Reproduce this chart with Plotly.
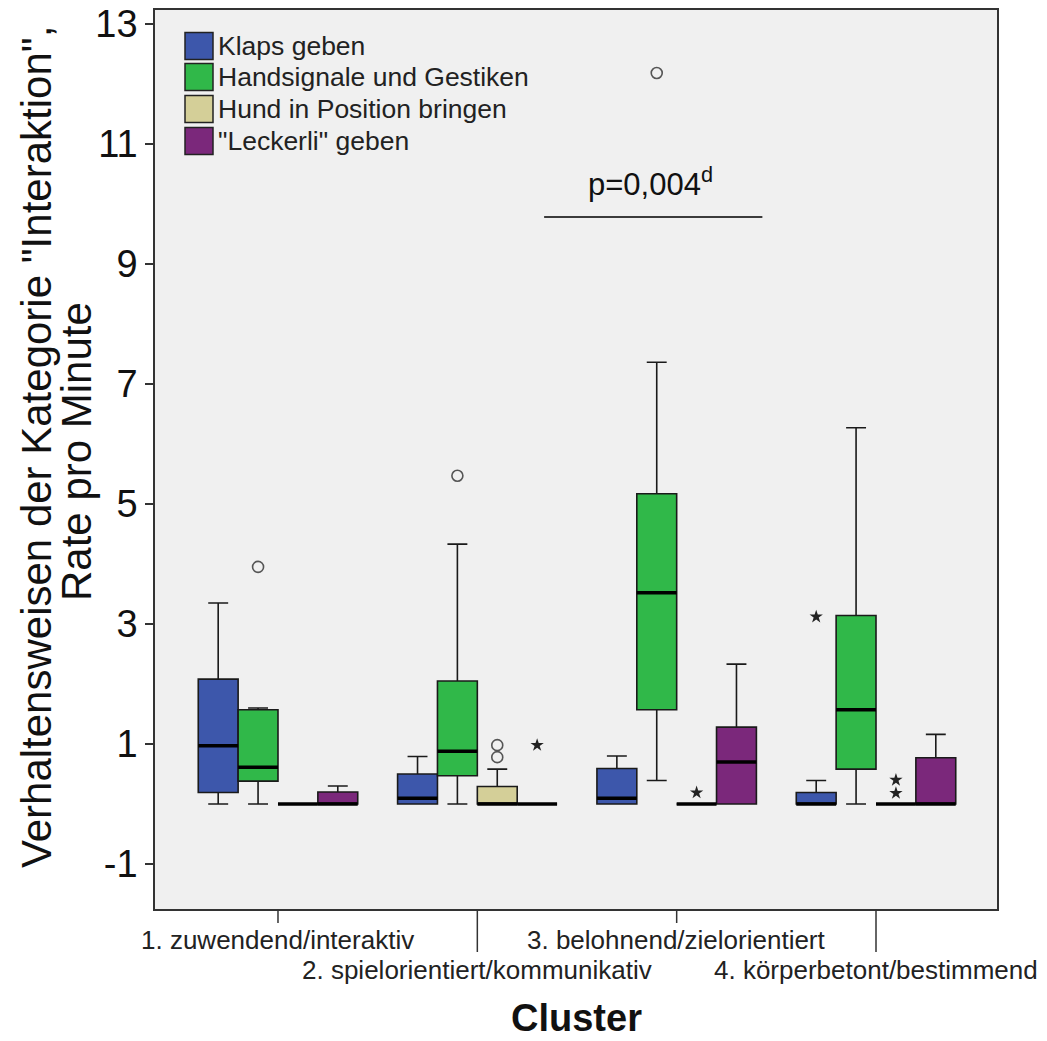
import plotly.graph_objects as go

# ---------------- data ----------------
clusters = ["1. zuwendend/interaktiv", "2. spielorientiert/kommunikativ",
            "3. belohnend/zielorientiert", "4. körperbetont/bestimmend"]
series = ["Klaps geben", "Handsignale und Gestiken", "Hund in Position bringen", "\"Leckerli\" geben"]
colors = ["#3D57AB", "#30B849", "#D4CF98", "#7B287B"]

klaps_lower = [0.0, 0.0, 0.0, 0.0]
klaps_q1 = [0.19, 0.0, 0.0, 0.0]
klaps_median = [0.97, 0.095, 0.095, 0.0]
klaps_q3 = [2.08, 0.50, 0.59, 0.19]
klaps_upper = [3.35, 0.79, 0.80, 0.39]

hand_lower = [0.0, 0.0, 0.39, 0.0]
hand_q1 = [0.38, 0.47, 1.57, 0.58]
hand_median = [0.61, 0.88, 3.52, 1.57]
hand_q3 = [1.57, 2.05, 5.17, 3.14]
hand_upper = [1.60, 4.33, 7.36, 6.27]

hund_lower = [0.0, 0.0, 0.0, 0.0]
hund_q1 = [0.0, 0.0, 0.0, 0.0]
hund_median = [0.0, 0.0, 0.0, 0.0]
hund_q3 = [0.0, 0.29, 0.0, 0.0]
hund_upper = [0.0, 0.58, 0.0, 0.0]

leck_lower = [0.0, 0.0, 0.0, 0.0]
leck_q1 = [0.0, 0.0, 0.0, 0.0]
leck_median = [0.0, 0.0, 0.70, 0.0]
leck_q3 = [0.20, 0.0, 1.28, 0.77]
leck_upper = [0.30, 0.0, 2.33, 1.16]

# outliers: (cluster index, series index, value)
outliers_circle = [(0, 1, 3.95), (1, 1, 5.47), (1, 2, 0.98), (1, 2, 0.78), (2, 1, 12.18)]
outliers_extreme = [(1, 3, 0.98), (2, 2, 0.19), (3, 0, 3.12), (3, 2, 0.40), (3, 2, 0.18)]

y_ticks = [-1, 1, 3, 5, 7, 9, 11, 13]
y_tick_labels = ["-1", "1", "3", "5", "7", "9", "11", "13"]
p_text = "p=0,004<sup>d</sup>"

stats = [
    (klaps_lower, klaps_q1, klaps_median, klaps_q3, klaps_upper),
    (hand_lower, hand_q1, hand_median, hand_q3, hand_upper),
    (hund_lower, hund_q1, hund_median, hund_q3, hund_upper),
    (leck_lower, leck_q1, leck_median, leck_q3, leck_upper),
]

# ---------------- layout helpers ----------------
W, H = 1047, 1041
L, R, T, B = 155, 997, 10, 909
offsets = [-0.3, -0.1, 0.1, 0.3]
bw = 0.2
FONT = "Liberation Sans, Arial, sans-serif"


def px(x):
    return (x - L) / (R - L)


def py(y):
    return (B - y) / (B - T)


fig = go.Figure()

for s, (lo, q1, med, q3, up) in enumerate(stats):
    xs = [i + offsets[s] for i in range(len(clusters))]
    fig.add_trace(go.Box(
        x=xs, lowerfence=lo, q1=q1, median=med, q3=q3, upperfence=up,
        width=bw, whiskerwidth=0.5, fillcolor=colors[s],
        line=dict(color="#1a1a1a", width=1.6), boxpoints=False,
        name=series[s], showlegend=False, hoverinfo="skip"))
    mx, my = [], []
    for x, m in zip(xs, med):
        mx += [x - bw / 2, x + bw / 2, None]
        my += [m, m, None]
    fig.add_trace(go.Scatter(x=mx, y=my, mode="lines",
                             line=dict(color="black", width=3.5),
                             showlegend=False, hoverinfo="skip"))

fig.add_trace(go.Scatter(
    x=[c + offsets[s] for c, s, v in outliers_circle],
    y=[v for c, s, v in outliers_circle], mode="markers",
    marker=dict(symbol="circle-open", size=11, color="#555555", line=dict(width=1.6)),
    showlegend=False, hoverinfo="skip"))
fig.add_trace(go.Scatter(
    x=[c + offsets[s] for c, s, v in outliers_extreme],
    y=[v for c, s, v in outliers_extreme], mode="markers",
    marker=dict(symbol="star", size=10, color="#222222"),
    showlegend=False, hoverinfo="skip"))

shapes = []
annotations = []

# custom legend
row_y = [46, 77, 109, 141]
for s in range(len(series)):
    shapes.append(dict(type="rect", xref="paper", yref="paper",
                       x0=px(185), x1=px(213), y0=py(row_y[s] + 13.5), y1=py(row_y[s] - 13.5),
                       fillcolor=colors[s], line=dict(color="#222222", width=1.5)))
    annotations.append(dict(xref="paper", yref="paper", x=px(216), y=py(row_y[s]),
                            xanchor="left", yanchor="middle", showarrow=False,
                            text=series[s], font=dict(family=FONT, size=26.5, color="#222222")))

# x axis ticks and staggered labels
for i, name in enumerate(clusters):
    long = i % 2 == 1
    shapes.append(dict(type="line", xref="x", yref="paper", x0=i, x1=i,
                       y0=0, y1=py(952 if long else 923),
                       line=dict(color="#333333", width=1.5)))
    annotations.append(dict(xref="x", yref="paper", x=i, y=py(970 if long else 940),
                            xanchor="center", yanchor="middle", showarrow=False,
                            text=name, font=dict(family=FONT, size=26, color="#222222")))

annotations.append(dict(xref="paper", yref="paper", x=0.5, y=py(1018),
                        xanchor="center", yanchor="middle", showarrow=False,
                        text="<b>Cluster</b>", font=dict(family=FONT, size=38, color="#111111")))

# y title (two lines)
annotations.append(dict(xref="paper", yref="paper", x=px(36), y=py(447), textangle=-90,
                        xanchor="center", yanchor="middle", showarrow=False,
                        text="Verhaltensweisen der Kategorie \"Interaktion\",",
                        font=dict(family=FONT, size=42, color="#111111")))
annotations.append(dict(xref="paper", yref="paper", x=px(76), y=py(452), textangle=-90,
                        xanchor="center", yanchor="middle", showarrow=False,
                        text="Rate pro Minute",
                        font=dict(family=FONT, size=42, color="#111111")))

# significance bracket
shapes.append(dict(type="line", xref="x", yref="y", x0=1.335, x1=2.43, y0=9.78, y1=9.78,
                   line=dict(color="black", width=1.5)))
annotations.append(dict(xref="x", yref="y", x=1.87, y=10.37, xanchor="center", yanchor="middle",
                        showarrow=False, text=p_text,
                        font=dict(family=FONT, size=31, color="#111111")))

fig.update_layout(
    width=W, height=H,
    margin=dict(l=L, r=W - R, t=T, b=H - B, autoexpand=False),
    paper_bgcolor="white", plot_bgcolor="#F0F0F0",
    boxmode="overlay", showlegend=False,
    shapes=shapes, annotations=annotations,
    xaxis=dict(range=[-0.617, 3.607], showticklabels=False, ticks="", showgrid=False,
               automargin=False,
               zeroline=False, showline=True, mirror=True, linecolor="#333333", linewidth=1.5),
    yaxis=dict(range=[-1.75, 13.23], tickvals=y_ticks, ticktext=y_tick_labels,
               ticks="outside", ticklen=8, automargin=False,
               tickcolor="#333333", tickwidth=1.5, showgrid=False, zeroline=False,
               showline=True, mirror=True, linecolor="#333333", linewidth=1.5,
               tickfont=dict(family=FONT, size=38, color="#111111")),
)

fig.write_html("out.html")
